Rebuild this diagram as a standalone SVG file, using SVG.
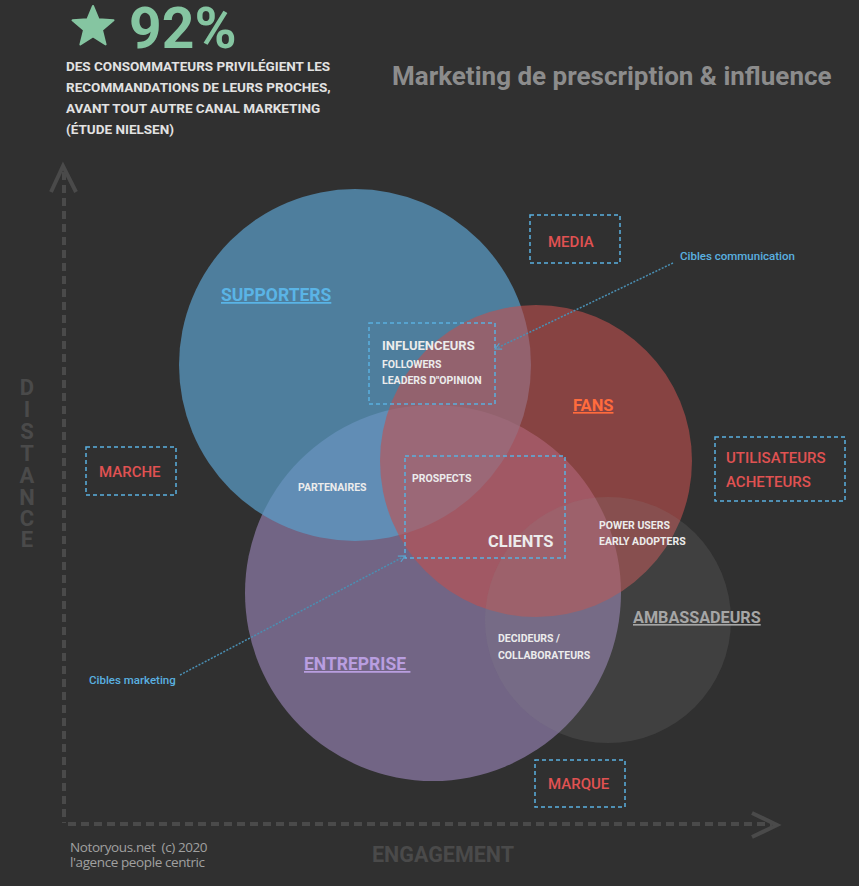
<svg xmlns="http://www.w3.org/2000/svg" width="859" height="886" viewBox="0 0 859 886">
<defs>
<style>
text{font-family:Roboto,"Liberation Sans",sans-serif;font-weight:bold}
.desc{fill:#e2e2e2;font-size:13.5px}
.axis{fill:none;stroke:#4a4a4a;stroke-width:4}
.axlbl{fill:#4a4a4a;font-size:21.5px}
.dl{fill:#4a4a4a;font-size:22px}
.box{fill:none;stroke:#5ab0e0;stroke-width:1.5;stroke-dasharray:4 3}
.red{fill:#e05252;font-size:15px;font-weight:500}
.wt{fill:#ececec}
.sm{font-size:10.5px}
.lead{fill:none;stroke:#4a8fb3;stroke-width:1.5;stroke-dasharray:2 1.5}
.cible{fill:#5ab0e0;font-size:11.5px;font-weight:500}
.big{font-size:16.5px;text-decoration:underline}
.foot{font-family:"Open Sans",sans-serif;font-weight:normal;fill:#a0a0a0;font-size:13.5px;letter-spacing:-0.4px}
</style>
<marker id="ah" viewBox="0 0 10 10" refX="9" refY="5" markerWidth="8" markerHeight="8" orient="auto" markerUnits="userSpaceOnUse">
<path d="M1,1 L9,5 L1,9" fill="none" stroke="#5a9fc8" stroke-width="1.5"/>
</marker>
</defs>
<rect width="859" height="886" fill="#303030"/>

<g id="header">
<path d="M93,6 L98.6,19.3 L113.5,20.3 L102,29.9 L105.6,44.4 L93,36.5 L80.4,44.4 L84,29.9 L72.5,20.3 L87.4,19.3 Z" fill="#85c5a1" stroke="#85c5a1" stroke-width="2" stroke-linejoin="round"/>
<text x="129" y="48" fill="#85c5a1" font-size="57">92%</text>
<text class="desc" x="66" y="71">DES CONSOMMATEURS PRIVILÉGIENT LES</text>
<text class="desc" x="66" y="92">RECOMMANDATIONS DE LEURS PROCHES,</text>
<text class="desc" x="66" y="113">AVANT TOUT AUTRE CANAL MARKETING</text>
<text class="desc" x="66" y="134">(ÉTUDE NIELSEN)</text>
<text x="392" y="85" fill="#8c8c8c" font-size="26">Marketing de prescription &amp; influence</text>
</g>

<g id="axes">
<line class="axis" x1="64" y1="172" x2="64" y2="823" stroke-dasharray="8 5"/>
<polyline class="axis" points="51,192 63,166 76,192"/>
<line class="axis" x1="68" y1="824" x2="772" y2="824" stroke-dasharray="8 5"/>
<polyline class="axis" points="752,813 777,825 752,837"/>
<text class="dl" text-anchor="middle"><tspan x="27" y="395">D</tspan><tspan x="27" y="417">I</tspan><tspan x="27" y="439">S</tspan><tspan x="27" y="461">T</tspan><tspan x="27" y="483">A</tspan><tspan x="27" y="505">N</tspan><tspan x="27" y="526">C</tspan><tspan x="27" y="547">E</tspan></text>
<text class="axlbl" x="372" y="862">ENGAGEMENT</text>
</g>

<g id="entreprise">
<circle cx="433" cy="593" r="188" fill="#8e7caa" opacity="0.7"/>
</g>
<g id="supporters">
<circle cx="355" cy="365" r="176" fill="#5a9cc8" opacity="0.72"/>
</g>
<g id="fans">
<circle cx="536" cy="461" r="156" fill="#c2504e" opacity="0.6"/>
</g>
<g id="ambassadeurs">
<circle cx="608" cy="620" r="123" fill="#8c8c8c" opacity="0.18"/>
</g>

<g id="labels">
<text class="big" x="221" y="301" fill="#5ab4e6" style="font-size:17.5px">SUPPORTERS</text>
<text class="big" x="573" y="411" fill="#ff6b3d">FANS</text>
<text class="big" x="304" y="670" fill="#b99ee0" style="font-size:17.5px">ENTREPRISE&#160;</text>
<text class="big" x="633" y="623" fill="#a6a6a6" style="font-size:16.2px">AMBASSADEURS</text>
<text class="sm wt" x="298" y="491">PARTENAIRES</text>
<text class="sm wt" x="412" y="482">PROSPECTS</text>
<text class="wt" x="488" y="547" font-size="16.5">CLIENTS</text>
<text class="sm wt" x="599" y="529">POWER USERS</text>
<text class="sm wt" x="599" y="545">EARLY ADOPTERS</text>
<text class="sm wt" x="498" y="642">DECIDEURS /</text>
<text class="sm wt" x="498" y="659">COLLABORATEURS</text>
</g>

<g id="influenceurs">
<rect class="box" x="369" y="323" width="126" height="81"/>
<text class="wt" x="382" y="350" font-size="13">INFLUENCEURS</text>
<text class="sm wt" x="382" y="368">FOLLOWERS</text>
<text class="sm wt" x="382" y="384">LEADERS D"OPINION</text>
</g>
<g id="clients-box">
<rect class="box" x="405" y="456" width="160" height="102"/>
</g>

<g id="media">
<rect class="box" x="530" y="215" width="90" height="48"/>
<text class="red" x="548" y="247">MEDIA</text>
</g>
<g id="marche">
<rect class="box" x="86" y="447" width="90" height="48"/>
<text class="red" x="99" y="477">MARCHE</text>
</g>
<g id="utilisateurs">
<rect class="box" x="715" y="437" width="130" height="64"/>
<text class="red" x="726" y="463">UTILISATEURS</text>
<text class="red" x="726" y="487">ACHETEURS</text>
</g>
<g id="marque">
<rect class="box" x="535" y="760" width="90" height="47"/>
<text class="red" x="548" y="789">MARQUE</text>
</g>

<g id="connectors">
<line class="lead" x1="673" y1="263" x2="495" y2="349" marker-end="url(#ah)"/>
<line class="lead" x1="180" y1="675" x2="405" y2="556" marker-end="url(#ah)"/>
</g>
<text class="cible" x="680" y="260">Cibles communication</text>
<text class="cible" x="89" y="684">Cibles marketing</text>

<g id="footer">
<text class="foot" xml:space="preserve"><tspan x="70" y="852">Notoryous.net  (c) 2020</tspan><tspan x="70" y="867">l'agence people centric</tspan></text>
</g>
</svg>
